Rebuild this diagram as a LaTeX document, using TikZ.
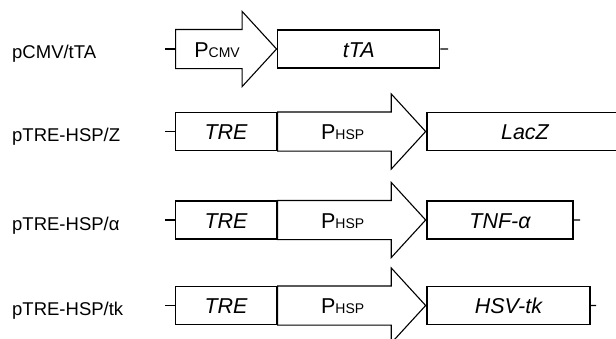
\documentclass[tikz,border=0pt]{standalone}
\usepackage{fontspec}
\setmainfont{Liberation Sans}
\usetikzlibrary{shapes.arrows,positioning}

\newcommand\labfont{\fontsize{18.5pt}{22pt}\selectfont}
\newcommand\genefont{\fontsize{21.5pt}{25pt}\selectfont}
\newcommand\promsub[1]{{\fontsize{14pt}{16pt}\selectfont #1}}

\tikzset{
  lab/.style={anchor=base west, inner sep=0pt, font=\labfont},
  gene/.style={draw, rectangle, line width=1.1pt, minimum height=38pt, minimum width=#1,
    inner sep=0pt, text height=27pt, text depth=11pt, font=\genefont\itshape},
  prom/.style={draw, single arrow, line width=1.1pt, minimum height=#1, inner sep=0pt,
    text height=27pt, text depth=11pt, single arrow head extend=18pt,
    single arrow tip angle=95, font=\genefont},
  stub/.style={line width=1.1pt}
}

\begin{document}
\begin{tikzpicture}[x=1pt, y=1pt]
  \useasboundingbox (0,0) rectangle (616,-338);

  % pCMV/tTA
  \node[lab] (L1) at (12,-58.5) {pCMV/tTA};
  \node[prom=101pt, anchor=tail] (P1) at (175,-49) {P\promsub{CMV}\hspace{19pt}};
  \node[gene=162pt, right=0pt of P1] (G1) {tTA};
  \coordinate (A1) at (165,-49);
  \coordinate (B1) at (448,-49);

  % pTRE-HSP/Z
  \node[lab] (L2) at (12,-141.5) {pTRE-HSP/Z};
  \node[gene=101pt, anchor=west] (T2) at (175,-131.5) {TRE};
  \node[prom=148pt, right=0pt of T2] (P2) {P\promsub{HSP}\hspace{20pt}};
  \node[gene=196pt, right=0pt of P2] (G2) {LacZ};
  \coordinate (A2) at (165,-131.5);

  % pTRE-HSP/alpha
  \node[lab] (L3) at (12,-230) {pTRE-HSP/α};
  \node[gene=101pt, anchor=west] (T3) at (175,-220) {TRE};
  \node[prom=148pt, right=0pt of T3] (P3) {P\promsub{HSP}\hspace{20pt}};
  \node[gene=146pt, right=0pt of P3] (G3) {TNF-α};
  \coordinate (A3) at (165,-220);
  \coordinate (B3) at (580,-220);

  % pTRE-HSP/tk
  \node[lab] (L4) at (12,-315.5) {pTRE-HSP/tk};
  \node[gene=101pt, anchor=west] (T4) at (175,-305.5) {TRE};
  \node[prom=148pt, right=0pt of T4] (P4) {P\promsub{HSP}\hspace{20pt}};
  \node[gene=163pt, right=0pt of P4] (G4) {HSV-tk};
  \coordinate (A4) at (165,-305.5);
  \coordinate (B4) at (596,-305.5);

  \draw[stub] (A1) -- (P1.tail);
  \draw[stub] (G1.east) -- (B1);
  \draw[stub] (A2) -- (T2.west);
  \draw[stub] (A3) -- (T3.west);
  \draw[stub] (G3.east) -- (B3);
  \draw[stub] (A4) -- (T4.west);
  \draw[stub] (G4.east) -- (B4);
\end{tikzpicture}
\end{document}
